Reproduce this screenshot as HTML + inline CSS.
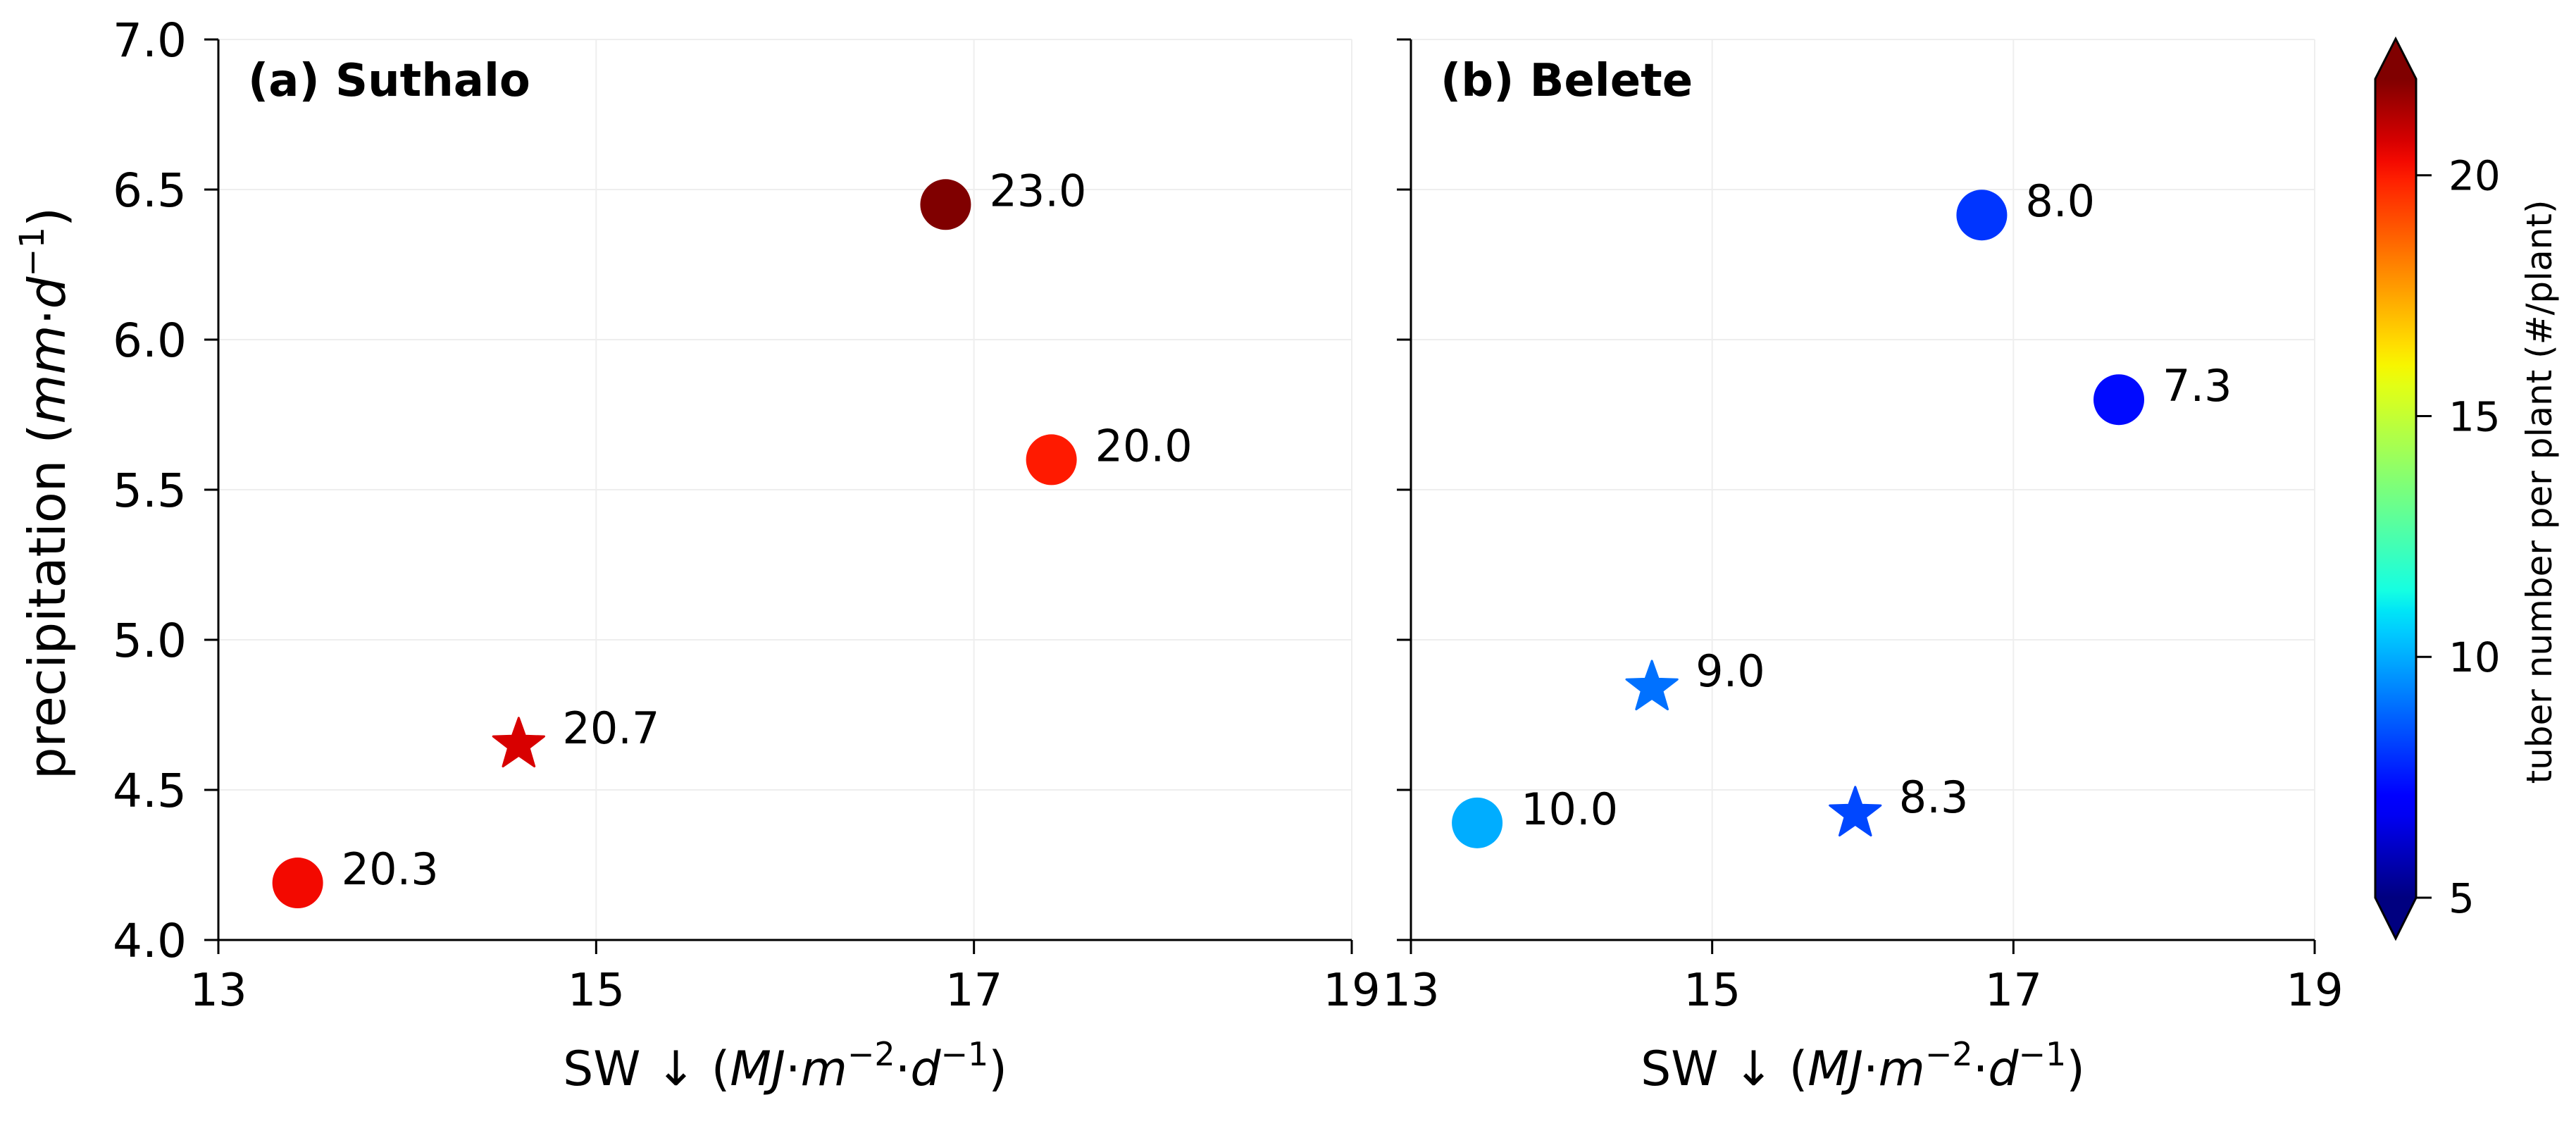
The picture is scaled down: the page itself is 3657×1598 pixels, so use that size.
<!DOCTYPE html>
<html><head><meta charset="utf-8"><style>
html,body{margin:0;padding:0;background:#fff;}
svg{display:block;font-family:"DejaVu Sans","Liberation Sans",sans-serif;}
</style></head><body>
<svg id="chart" width="3657" height="1598" viewBox="0 0 3657 1598" xmlns="http://www.w3.org/2000/svg">
<defs><linearGradient id="jetgrad" x1="0" y1="1" x2="0" y2="0"></linearGradient></defs>
<g id="layer"></g>
</svg>
<script>
// ---- data ----
const xTicks = [13, 15, 17, 19];
const yTicks = [4.0, 4.5, 5.0, 5.5, 6.0, 6.5, 7.0];
const cbTicks = [5, 10, 15, 20];
const aX = [16.85, 17.41, 14.59, 13.42];
const aY = [6.45, 5.60, 4.66, 4.19];
const aVal = [23.0, 20.0, 20.7, 20.3];
const aMarker = ["circle", "circle", "star", "circle"];
const bX = [16.79, 17.70, 14.60, 15.95, 13.44];
const bY = [6.415, 5.80, 4.85, 4.43, 4.39];
const bVal = [8.0, 7.3, 9.0, 8.3, 10.0];
const bMarker = ["circle", "circle", "star", "star", "circle"];
const vmin = 5, vmax = 22;

const NS = "http://www.w3.org/2000/svg";
const layer = document.getElementById("layer");
function mk(tag, attrs, parent) {
  const e = document.createElementNS(NS, tag);
  for (const k in attrs) e.setAttribute(k, attrs[k]);
  (parent || layer).appendChild(e);
  return e;
}
function interp(pts, t) {
  for (let i = 0; i < pts.length - 1; i++) {
    if (t <= pts[i + 1][0]) {
      const [x0, y0] = pts[i], [x1, y1] = pts[i + 1];
      return y0 + (y1 - y0) * (t - x0) / (x1 - x0);
    }
  }
  return pts[pts.length - 1][1];
}
function jet(t) {
  t = Math.max(0, Math.min(1, t));
  const r = interp([[0, 0], [0.35, 0], [0.66, 1], [0.89, 1], [1, 0.5]], t);
  const g = interp([[0, 0], [0.125, 0], [0.375, 1], [0.64, 1], [0.91, 0], [1, 0]], t);
  const b = interp([[0, 0.5], [0.11, 1], [0.34, 1], [0.65, 0], [1, 0]], t);
  return `rgb(${Math.round(r * 255)},${Math.round(g * 255)},${Math.round(b * 255)})`;
}
function colorFor(v) {
  if (v > vmax) return "rgb(128,0,0)";
  if (v < vmin) return "rgb(0,0,128)";
  return jet((v - vmin) / (vmax - vmin));
}

const yTop = 56, yBot = 1334;
const yMin = 4.0, yMax = 7.0;
function sy(v) { return yBot - (v - yMin) / (yMax - yMin) * (yBot - yTop); }

function panel(name, left, right, title, xs, ys, vals, markers, showYLabels) {
  const g = mk("g", {});
  
  
  const sx = v => left + (v - 13) / 6 * (right - left);
  xTicks.forEach(t => {
    const l = mk("line", {x1: sx(t), x2: sx(t), y1: yTop, y2: yBot, stroke: "#eeeeee", "stroke-width": 2}, g);
    
    
  });
  yTicks.forEach(t => {
    const l = mk("line", {x1: left, x2: right, y1: sy(t), y2: sy(t), stroke: "#eeeeee", "stroke-width": 2}, g);
    
    
  });
  const ls = mk("line", {x1: left, x2: left, y1: yTop, y2: yBot + 1.5, stroke: "#000", "stroke-width": 3}, g);
  
  
  const bs = mk("line", {x1: left - 1.5, x2: right, y1: yBot, y2: yBot, stroke: "#000", "stroke-width": 3}, g);
  
  
  xTicks.forEach(t => {
    const tk = mk("line", {x1: sx(t), x2: sx(t), y1: yBot, y2: yBot + 20, stroke: "#000", "stroke-width": 3}, g);
    
    
    const tl = mk("text", {x: sx(t), y: yBot + 93, "font-size": 64, "text-anchor": "middle", fill: "#000"}, g);
    tl.textContent = String(t);
    
    
  });
  yTicks.forEach(t => {
    const tk = mk("line", {x1: left - 20, x2: left, y1: sy(t), y2: sy(t), stroke: "#000", "stroke-width": 3}, g);
    
    
    if (showYLabels) {
      const tl = mk("text", {x: left - 45, y: sy(t) + 24, "font-size": 66, "text-anchor": "end", fill: "#000"}, g);
      tl.textContent = t.toFixed(1);
      
      
    }
  });
  const tt = mk("text", {x: left + 42, y: 136, "font-size": 64, "font-weight": "bold", fill: "#000"}, g);
  tt.textContent = title;
  
  
  const xl = mk("text", {x: (left + right) / 2, y: 1540, "font-size": 68, "text-anchor": "middle", fill: "#000"}, g);
  xl.innerHTML = 'SW ↓  (<tspan font-style="italic">MJ</tspan>·<tspan font-style="italic">m</tspan><tspan font-size="46" dy="-28">−2</tspan><tspan dy="28">·</tspan><tspan font-style="italic">d</tspan><tspan font-size="46" dy="-28">−1</tspan><tspan dy="28">)</tspan>';
  
  
  xs.forEach((xv, i) => {
    const cx = sx(xv), cy = sy(ys[i]), col = colorFor(vals[i]);
    let m;
    if (markers[i] === "circle") {
      m = mk("circle", {cx: cx, cy: cy, r: 36, fill: col}, g);
      
      
    } else {
      const R = 38, r = 15.5;
      let d = "";
      for (let k = 0; k < 10; k++) {
        const ang = -Math.PI / 2 + k * Math.PI / 5;
        const rr = k % 2 === 0 ? R : r;
        d += (k === 0 ? "M" : "L") + (cx + rr * Math.cos(ang)).toFixed(1) + "," + (cy + 4 + rr * Math.sin(ang)).toFixed(1);
      }
      m = mk("path", {d: d + "Z", fill: col, stroke: col, "stroke-width": 3, "stroke-linejoin": "round"}, g);
      
      
    }
    const lab = mk("text", {x: cx + 62, y: cy + 2, "font-size": 62, fill: "#000"}, g);
    lab.textContent = vals[i].toFixed(1);
    
    
  });
}

panel("panel-a-suthalo", 310, 1919, "(a) Suthalo", aX, aY, aVal, aMarker, true);
panel("panel-b-belete", 2003, 3286, "(b) Belete", bX, bY, bVal, bMarker, false);

const yl = mk("text", {x: 0, y: 0, "font-size": 72, "text-anchor": "middle", fill: "#000", transform: "translate(92,700) rotate(-90)"});
yl.innerHTML = 'precipitation (<tspan font-style="italic">mm</tspan>·<tspan font-style="italic">d</tspan><tspan font-size="48" dy="-30">−1</tspan><tspan dy="30">)</tspan>';



const grad = document.getElementById("jetgrad");
for (let i = 0; i <= 40; i++) {
  const t = i / 40;
  mk("stop", {offset: t, "stop-color": jet(t)}, grad);
}
const cbL = 3372, cbR = 3430, cbTop = 112, cbBot = 1274, tipTop = 55, tipBot = 1332;
const cb = mk("g", {});


const cbY = v => cbBot - (v - vmin) / (vmax - vmin) * (cbBot - cbTop);
const body = mk("rect", {x: cbL, y: cbTop, width: cbR - cbL, height: cbBot - cbTop, fill: "url(#jetgrad)"}, cb);


const over = mk("polygon", {points: `${cbL},${cbTop + 1} ${(cbL + cbR) / 2},${tipTop} ${cbR},${cbTop + 1}`, fill: "rgb(128,0,0)"}, cb);


const under = mk("polygon", {points: `${cbL},${cbBot - 1} ${(cbL + cbR) / 2},${tipBot} ${cbR},${cbBot - 1}`, fill: "rgb(0,0,128)"}, cb);


const outline = mk("polygon", {points: `${cbL},${cbTop} ${(cbL + cbR) / 2},${tipTop} ${cbR},${cbTop} ${cbR},${cbBot} ${(cbL + cbR) / 2},${tipBot} ${cbL},${cbBot}`, fill: "none", stroke: "#000", "stroke-width": 3}, cb);


cbTicks.forEach(t => {
  const tk = mk("line", {x1: cbR, x2: cbR + 22, y1: cbY(t), y2: cbY(t), stroke: "#000", "stroke-width": 3}, cb);
  
  
  const tl = mk("text", {x: cbR + 46, y: cbY(t) + 21, "font-size": 58, fill: "#000"}, cb);
  tl.textContent = String(t);
  
  
});
const cbl = mk("text", {x: 0, y: 0, "font-size": 50, "text-anchor": "middle", fill: "#000", transform: "translate(3622,698) rotate(-90)"}, cb);
cbl.textContent = "tuber number per plant (#/plant)";


</script>
</body></html>
